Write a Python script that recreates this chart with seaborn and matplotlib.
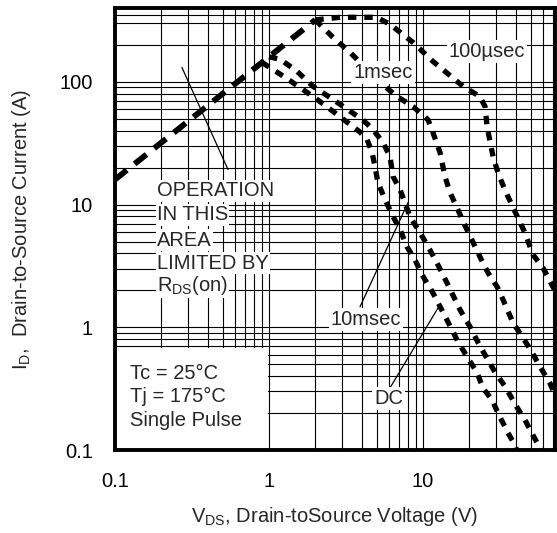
import matplotlib
matplotlib.use("Agg")
import matplotlib.pyplot as plt
from matplotlib.patches import Rectangle
from matplotlib.ticker import LogLocator, NullFormatter, FixedLocator, FixedFormatter
import seaborn as sns

# Safe operating area boundaries: drain-source voltage (V) vs drain current (A)
rds_v = [0.1, 2.0]
rds_i = [16, 320]

us100_v = [2.0, 2.9, 5.0, 6.1, 8.6, 11.6, 18.2, 23.4, 25.3, 26.1, 28.5, 30.7,
           34.0, 38.4, 45.9, 51.8, 60.1, 69.8, 72]
us100_i = [320, 336, 336, 295, 210, 147, 92, 76, 63, 43, 24.7, 18.2,
           13.2, 9.5, 5.9, 3.9, 3.06, 2.14, 2.0]

ms1_v = [2.0, 2.6, 3.36, 5.26, 6.78, 8.61, 10.8, 11.6, 12.9, 13.9, 15.0, 19.3,
         23.4, 26.4, 30.3, 33.1, 38.4, 44.6, 51, 55.8, 66.8, 72]
ms1_i = [320, 231, 174, 99, 76, 63, 49, 38.7, 26.6, 16.9, 12.5, 6.25,
         3.77, 2.79, 2.14, 1.68, 1.09, 0.82, 0.63, 0.51, 0.35, 0.28]

ms10_v = [1.0, 1.18, 1.52, 1.93, 2.60, 3.21, 4.07, 4.73, 5.50, 6.1, 6.4, 7.1,
          8.24, 9.57, 10.8, 12.3, 14.3, 17.4, 20.2, 22.8, 26.0, 29.4, 34.1,
          40.7, 45.9, 51.8, 57.5, 58.5]
ms10_i = [160, 153, 122, 92, 72, 60, 49, 41, 32, 24.7, 16.9, 13.2,
          7.97, 5.9, 4.54, 3.36, 2.31, 1.39, 1.01, 0.75, 0.56, 0.43, 0.33,
          0.224, 0.176, 0.132, 0.104, 0.1]

dc_v = [0.9, 1.27, 1.59, 2.05, 2.49, 3.21, 3.9, 4.33, 4.67, 4.88, 5.1, 5.67,
        6.29, 7.1, 7.87, 8.87, 9.86, 11.6, 14.3, 16.9, 19.6, 22.4, 24.5, 28.1,
        30.7, 35.6, 39.6, 40.5]
dc_i = [144, 109, 90, 72, 60, 47, 39, 34, 26.6, 20.4, 15.1, 11,
        8.3, 6.25, 4.54, 3.55, 2.68, 1.91, 1.15, 0.76, 0.56, 0.43, 0.32, 0.256,
        0.20, 0.138, 0.11, 0.1]

x_ticks = [0.1, 1, 10]
x_tick_labels = ["0.1", "1", "10"]
y_ticks = [0.1, 1, 10, 100]
y_tick_labels = ["0.1", "1", "10", "100"]

sns.set_style("white")
plt.rcParams["font.family"] = ["Liberation Sans", "DejaVu Sans"]
plt.rcParams["mathtext.fontset"] = "custom"
plt.rcParams["mathtext.rm"] = "Liberation Sans"

FS = 14.5

fig = plt.figure(figsize=(5.57, 5.33), dpi=100)
ax = fig.add_axes([115 / 557, 83 / 533, 440 / 557, 442 / 533])
ax.set_xscale("log")
ax.set_yscale("log")
ax.set_xlim(0.1, 72)
ax.set_ylim(0.1, 400)

# grid: every decade and every sub-decade
ax.xaxis.set_major_locator(FixedLocator(x_ticks))
ax.xaxis.set_major_formatter(FixedFormatter(x_tick_labels))
ax.yaxis.set_major_locator(FixedLocator(y_ticks))
ax.yaxis.set_major_formatter(FixedFormatter(y_tick_labels))
for axis in (ax.xaxis, ax.yaxis):
    axis.set_minor_locator(LogLocator(base=10, subs=range(2, 10), numticks=20))
    axis.set_minor_formatter(NullFormatter())
ax.grid(which="both", color="black", lw=0.8, zorder=0)
ax.axhline(350, color="black", lw=0.8, zorder=0)
ax.set_axisbelow(True)
ax.tick_params(which="both", length=0, labelsize=FS, pad=16, colors="black")

for sp in ax.spines.values():
    sp.set_linewidth(2.8)
    sp.set_color("black")
    sp.set_zorder(8)

# boundary curves
sns.lineplot(x=rds_v, y=rds_i, ax=ax, color="black", lw=4.2,
             linestyle=(0, (2.6, 1.7)), sort=False, estimator=None, zorder=5)
curves = [(us100_v, us100_i), (ms1_v, ms1_i), (ms10_v, ms10_i), (dc_v, dc_i)]
for v, i in curves:
    sns.lineplot(x=v, y=i, ax=ax, color="black", lw=3.8,
                 linestyle=(0, (1.6, 1.5)), sort=False, estimator=None, zorder=5)

box = dict(facecolor="white", edgecolor="none", pad=1.5)

# curve labels (boxes sit over the curves)
ax.text(26.1, 177, "100µsec", fontsize=FS, ha="center", va="center", bbox=box, zorder=7)
ax.text(5.5, 120, "1msec", fontsize=FS, ha="center", va="center", bbox=box, zorder=7)
ax.text(4.27, 1.15, "10msec", fontsize=FS, ha="center", va="center", bbox=box, zorder=7)
ax.text(6.0, 0.265, "DC", fontsize=FS, ha="center", va="center", bbox=box, zorder=7)

# leader lines
leader = dict(arrowstyle="-", color="black", lw=0.9, shrinkA=0, shrinkB=0)
ax.annotate("", xy=(0.272, 131), xytext=(0.542, 19.3), arrowprops=leader, zorder=4)
ax.annotate("", xy=(8.0, 10.4), xytext=(3.9, 1.47), arrowprops=leader, zorder=4)
ax.annotate("", xy=(12.9, 1.53), xytext=(6.1, 0.32), arrowprops=leader, zorder=4)

# region note, one boxed line each
note_lines = ["OPERATION", "IN THIS", "AREA", "LIMITED BY", r"R$_\mathregular{DS}$(on)"]
note_y = [0.586, 0.532, 0.475, 0.423, 0.373]
for txt, yy in zip(note_lines, note_y):
    ax.text(0.095, yy, txt, transform=ax.transAxes, fontsize=FS,
            ha="left", va="center", bbox=dict(facecolor="white", edgecolor="none", pad=0.8),
            zorder=4)

# test conditions
ax.add_patch(Rectangle((0, 0), 0.348, 0.231, transform=ax.transAxes,
                       facecolor="white", edgecolor="none", zorder=3))
for txt, yy in zip(["Tc = 25°C", "Tj = 175°C", "Single Pulse"], [0.172, 0.120, 0.066]):
    ax.text(0.034, yy, txt, transform=ax.transAxes, fontsize=FS,
            ha="left", va="center", zorder=4)

ax.set_xlabel(r"V$_\mathregular{DS}$, Drain-toSource Voltage (V)", fontsize=FS)
ax.set_ylabel(r"I$_\mathregular{D}$,  Drain-to-Source Current (A)", fontsize=FS)
ax.xaxis.set_label_coords(0.498, -0.125)
ax.yaxis.set_label_coords(-0.186, 0.5)

fig.savefig("out.png", dpi=100, facecolor="white")
